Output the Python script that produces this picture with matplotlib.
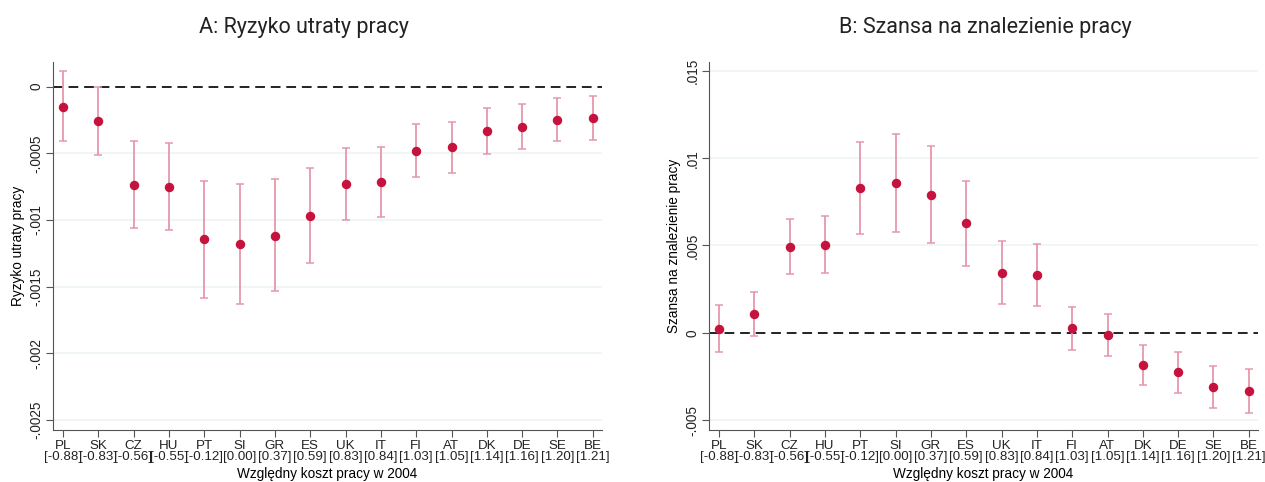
import numpy as np
import matplotlib
matplotlib.use('Agg')
import matplotlib.pyplot as plt

# countries and relative labour cost in 2004
countries = ['PL', 'SK', 'CZ', 'HU', 'PT', 'SI', 'GR', 'ES',
             'UK', 'IT', 'FI', 'AT', 'DK', 'DE', 'SE', 'BE']
cost = ['-0.88', '-0.83', '-0.56', '-0.55', '-0.12', '0.00', '0.37', '0.59',
        '0.83', '0.84', '1.03', '1.05', '1.14', '1.16', '1.20', '1.21']

# Panel A: job loss risk (point estimate, CI low, CI high)
risk = [-0.00015, -0.000257, -0.000735, -0.00075, -0.001145, -0.001183, -0.001118, -0.000968,
        -0.000728, -0.000718, -0.00048, -0.000455, -0.000332, -0.000305, -0.000247, -0.000232]
risk_lo = [-0.00041, -0.000515, -0.001058, -0.001075, -0.001588, -0.001633, -0.001535, -0.001325,
           -0.000998, -0.00098, -0.000677, -0.000647, -0.000505, -0.00047, -0.00041, -0.000397]
risk_hi = [0.00012, 0.0, -0.00041, -0.000425, -0.000705, -0.000728, -0.000695, -0.000608,
           -0.000458, -0.00045, -0.000282, -0.000262, -0.00016, -0.000132, -0.000082, -0.000067]

# Panel B: job finding chance
find = [0.00021, 0.00109, 0.00491, 0.00505, 0.00829, 0.00859, 0.00789, 0.00627,
        0.00345, 0.00331, 0.00025, -0.00011, -0.00186, -0.00226, -0.0031, -0.00331]
find_lo = [-0.00112, -0.00017, 0.00334, 0.00343, 0.00566, 0.00579, 0.00513, 0.00383,
           0.00162, 0.00151, -0.001, -0.00135, -0.003, -0.00343, -0.0043, -0.00457]
find_hi = [0.00158, 0.00231, 0.00651, 0.00669, 0.01094, 0.01137, 0.01067, 0.00871,
           0.00526, 0.00509, 0.00149, 0.00109, -0.00072, -0.00109, -0.00189, -0.00207]

ticksA = [0, -0.0005, -0.001, -0.0015, -0.002, -0.0025]
ticklabA = ['0', '-.0005', '-.001', '-.0015', '-.002', '-.0025']
ticksB = [0.015, 0.01, 0.005, 0, -0.005]
ticklabB = ['.015', '.01', '.005', '0', '-.005']

plt.rcParams['font.family'] = ['Liberation Sans', 'DejaVu Sans']

fig = plt.figure(figsize=(12.65, 4.82), dpi=100)
axA = fig.add_axes([53/1265, 52/482, (602-53)/1265, (430-62)/482])
axB = fig.add_axes([709/1265, 52/482, (1258-709)/1265, (430-62)/482])

xlabels = [c + '\n[' + v + ']' for c, v in zip(countries, cost)]
x = np.arange(1, len(countries) + 1)


def panel(ax, est, lo, hi, ticks, ticklabels, ylim, ylabel):
    est = np.array(est)
    err = [est - np.array(lo), np.array(hi) - est]
    for t in ticks:
        if t != 0:
            ax.axhline(t, color='#eef3f3', lw=1.2, zorder=0)
    ax.axhline(0, color='#222222', lw=1.4, ls=(0, (5, 3)), zorder=1)
    ax.errorbar(x, est, yerr=err, fmt='none', ecolor='#e597ab', elinewidth=1.3,
                capsize=3.2, capthick=1.1, zorder=2)
    ax.plot(x, est, 'o', color='#c5133d', ms=5.8, zorder=3)
    ax.set_xlim(0.72, 16.26)
    ax.set_ylim(*ylim)
    ax.set_yticks(ticks)
    ax.set_yticklabels(ticklabels, rotation=90, va='center', fontsize=9.8)
    ax.set_xticks(x)
    ax.set_xticklabels(xlabels, fontsize=9.6, linespacing=0.95)
    ax.set_xlabel('Względny koszt pracy w 2004', fontsize=9.8, labelpad=3)
    ax.set_ylabel(ylabel, fontsize=9.8, labelpad=3)
    for s in ['top', 'right']:
        ax.spines[s].set_visible(False)
    for s in ['left', 'bottom']:
        ax.spines[s].set_color('#555555')
    ax.tick_params(colors='#555555', labelcolor='#222222', length=5, pad=2)


panel(axA, risk, risk_lo, risk_hi, ticksA, ticklabA, (-0.002575, 0.000185),
      'Ryzyko utraty pracy')
panel(axB, find, find_lo, find_hi, ticksB, ticklabB, (-0.00557, 0.01551),
      'Szansa na znalezienie pracy')

fig.text(304/1265, 1 - 27/482, 'A: Ryzyko utraty pracy', ha='center', va='center',
         fontsize=15.5, family='Roboto', color='#222222')
fig.text(985/1265, 1 - 27/482, 'B: Szansa na znalezienie pracy', ha='center', va='center',
         fontsize=15.5, family='Roboto', color='#222222')

fig.savefig('out.png', dpi=100)
